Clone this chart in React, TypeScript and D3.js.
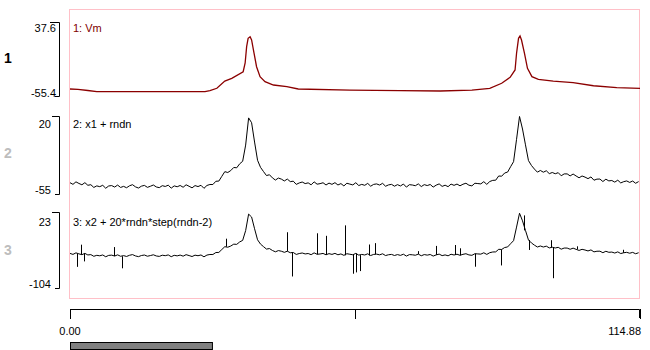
import React from 'react';
import * as d3 from 'd3';

// ---- data ----
const timeMax = 114.88;
const vmTime = [0, 1.6, 3.6, 5.4, 27.2, 28.2, 29.6, 31.2, 32.6, 34.9, 35.3, 35.6, 35.9, 36.3, 36.6, 37.1, 37.6, 38.3, 39.3, 41.0, 43.7, 46.0, 56.4, 66.5, 74.6, 81.0, 84.6, 87.0, 88.7, 89.7, 90.0, 90.4, 90.7, 91.0, 91.6, 92.2, 93.1, 94.4, 97.4, 101.4, 105.5, 110.2, 114.88];
const vmValue = [-46.6, -47.0, -48.5, -50.0, -50.0, -48.7, -45.7, -36.6, -33.2, -24.9, -13.9, 6.6, 17.1, 19.1, 15.0, -1.7, -18.6, -31.1, -37.4, -41.6, -43.7, -46.6, -47.9, -48.7, -49.1, -47.9, -45.7, -39.4, -31.9, -22.7, -1.7, 17.1, 20.0, 15.0, -1.7, -20.6, -31.1, -34.4, -36.6, -38.7, -42.5, -45.0, -45.7];

// rndn samples (one every sampleStep time units)
const sampleStep = 0.6;
const noise = [
  0.4, -1.1, 1.6, 0.2, -0.7, 1.9, -0.3, 0.8, -1.5, 0.6,
  -0.2, 1.2, -1.8, 0.5, 0.9, -0.6, 1.4, -1.0, 0.1, -1.3,
  0.7, 1.8, -0.4, -1.6, 0.3, 1.1, -0.9, 0.2, 1.5, -0.5,
  -1.2, 0.8, 0.0, 1.3, -1.7, 0.6, -0.3, 1.0, -0.8, 1.7,
  0.2, -1.4, 0.9, -0.1, 1.2, -1.9, 0.5, 0.7, -0.6, 1.4,
  -1.1, 0.3, 1.6, -0.7, -0.2, 1.0, -1.5, 0.4, 0.8, -1.0,
  1.9, -0.4, 0.1, -1.3, 1.1, 0.6, -0.8, 1.5, -0.2, -1.6,
  0.9, 0.3, -1.1, 1.3, -0.5, 0.7, -1.8, 0.2, 1.2, -0.3,
  0.5, -1.4, 1.7, -0.6, 0.0, 1.0, -1.2, 0.8, -0.4, 1.4,
  -0.9, 0.6, -1.7, 1.1, 0.3, -0.5, 1.8, -1.0, 0.2, -0.7,
  1.3, -1.5, 0.4, 0.9, -0.2, 1.6, -1.3, 0.1, 0.7, -1.1,
  0.5, -0.8, 1.2, -1.9, 0.6, 0.3, -0.4, 1.5, -1.2, 0.8,
  -0.1, 1.0, -1.6, 0.4, 1.7, -0.9, 0.2, -1.4, 1.1, -0.3,
  0.9, -1.0, 0.5, 1.4, -0.7, -1.5, 0.8, 0.1, -0.6, 1.3,
  -1.8, 0.7, 0.3, -1.1, 1.6, -0.2, 0.4, -1.3, 1.0, 0.6,
  -0.5, 1.9, -1.2, 0.2, -0.8, 1.2, 0.0, -1.6, 0.9, -0.4,
  1.5, -1.0, 0.6, -0.3, 1.1, -1.7, 0.5, 0.8, -0.9, 1.3,
  -0.1, -1.4, 1.0, 0.4, -0.6, 1.7, -1.1, 0.3, 0.7, -1.5,
  1.2, -0.2, 0.5, -0.8, 1.4, -1.3, 0.1, 0.9, -0.5, 1.0,
  -1.2, 0.6,
];

// 20*rndn*step(rndn-2) events
const spikeTime = [1.5, 2.2, 2.8, 8.9, 10.4, 31.4, 43.7, 44.8, 49.8, 51.6, 55.4, 57.0, 57.6, 58.4, 60.3, 61.5, 70.1, 73.8, 77.5, 78.6, 81.7, 86.9, 91.6, 92.6, 96.9, 97.3, 102.1, 111.4];
const spikeAmp = [-21.7, 16.7, -13.4, 15.0, -20.1, 13.4, 31.7, -40.1, 35.1, 31.7, 50.1, -31.7, -31.7, -26.7, 18.4, 18.4, 5.0, 15.0, 16.7, 11.7, -21.7, -26.7, 25.1, -16.7, 11.7, -51.8, 5.0, 5.0];

const channelNumbers = ['1', '2', '3'];
const channelTitles = ['1: Vm', '2: x1 + rndn', '3: x2 + 20*rndn*step(rndn-2)'];
const yTopValues = [37.6, 20, 23];
const yBottomValues = [-55.4, -55, -104];
const yTopLabels = ['37.6', '20', '23'];
const yBottomLabels = ['-55.4', '-55', '-104'];
const xTicks = [0, timeMax / 2, timeMax];
const xTickLabels = ['0.00', '', '114.88'];
const viewFraction = 0.249;

const FONT = '"Liberation Sans", Arial, sans-serif';

export default function App() {
  const x = d3.scaleLinear().domain([0, timeMax]).range([70, 640]);
  // bracket extents and data ranges per channel
  const brackets = [[22, 96], [116, 194], [212, 288]];
  const dataRanges = [[96, 22], [191.4, 117.4], [288, 212]];
  const ys = dataRanges.map((r, i) => d3.scaleLinear().domain([yBottomValues[i], yTopValues[i]]).range(r));
  const numberY = [63, 158, 255];
  const numberColor = ['#000', '#bdbdbd', '#bdbdbd'];
  const titleY = [32, 127.5, 226];
  const topLabelY = [32, 128, 226];
  const botLabelY = [97, 194, 288];
  const labelRight = [56, 51, 51];

  const vmAt = d3.scaleLinear().domain(vmTime).range(vmValue).clamp(true);
  const x1 = vmTime.map((t, i) => [t, vmValue[i]] as [number, number]);
  const x2 = noise.map((n, i) => [i * sampleStep, vmAt(i * sampleStep) + n] as [number, number]);

  const line = (yS: d3.ScaleLinear<number, number>) =>
    d3.line<[number, number]>().x(d => x(d[0])).y(d => yS(d[1]));

  const spikeBase = (t: number) => {
    const i = Math.min(x2.length - 1, Math.round(t / sampleStep));
    return x2[i][1];
  };
  const spikePath = spikeTime
    .map((t, i) => {
      const b = spikeBase(t);
      const px = Math.round(x(t)) + 0.5;
      return `M${px},${ys[2](b)}V${ys[2](b + spikeAmp[i])}`;
    })
    .join('');

  return (
    <svg width={650} height={350} style={{ position: 'absolute', left: 0, top: 0, background: '#fff' }} fontFamily={FONT}>
      <rect x={0} y={0} width={650} height={350} fill="#fff" />
      {/* pink frame */}
      <rect x={69.5} y={9.5} width={570} height={289} fill="none" stroke="#ffc0c8" strokeWidth={1} />

      {channelNumbers.map((n, i) => (
        <text key={'n' + i} x={4} y={numberY[i]} fontSize={14} fontWeight="bold" fill={numberColor[i]}>{n}</text>
      ))}

      {brackets.map((b, i) => (
        <g key={'b' + i} stroke="#000" strokeWidth={1} fill="none">
          <path d={`M${labelRight[i] === 56 ? 50 : 52},${b[0] + 0.5}H59.5V${b[1] + 0.5}H55`} />
        </g>
      ))}
      {yTopLabels.map((l, i) => (
        <text key={'t' + i} x={labelRight[i]} y={topLabelY[i]} fontSize={11} textAnchor="end" fill="#000">{l}</text>
      ))}
      {yBottomLabels.map((l, i) => (
        <text key={'bl' + i} x={labelRight[i]} y={botLabelY[i]} fontSize={11} textAnchor="end" fill="#000">{l}</text>
      ))}

      {channelTitles.map((l, i) => (
        <text key={'ti' + i} x={73} y={titleY[i]} fontSize={11} fill={i === 0 ? '#800000' : '#000'}>{l}</text>
      ))}

      <path d={line(ys[0])(x1) || ''} fill="none" stroke="#8b0000" strokeWidth={1.3} />
      <path d={line(ys[1])(x2) || ''} fill="none" stroke="#000" strokeWidth={1} />
      <path d={line(ys[2])(x2) || ''} fill="none" stroke="#000" strokeWidth={1} />
      <path d={spikePath} fill="none" stroke="#000" strokeWidth={1} />

      {/* time axis */}
      <path d={`M${x(0) + 0.5},318V309.5H${x(timeMax) - 0.5}V318`} fill="none" stroke="#000" strokeWidth={1} />
      {xTicks.map((t, i) => (
        <line key={'xt' + i} x1={Math.round(x(t)) + 0.5} x2={Math.round(x(t)) + 0.5} y1={309} y2={319} stroke="#000" strokeWidth={1} />
      ))}
      {xTickLabels.map((l, i) => (
        l ? <text key={'xl' + i} x={i === 0 ? x(xTicks[i]) : x(xTicks[i]) + 1} y={335} fontSize={11}
          textAnchor={i === 0 ? 'middle' : 'end'} fill="#000">{l}</text> : null
      ))}
      <rect x={70.5} y={342.5} width={(x(timeMax) - x(0)) * viewFraction} height={7} fill="#808080" stroke="#000" strokeWidth={1} />
    </svg>
  );
}
